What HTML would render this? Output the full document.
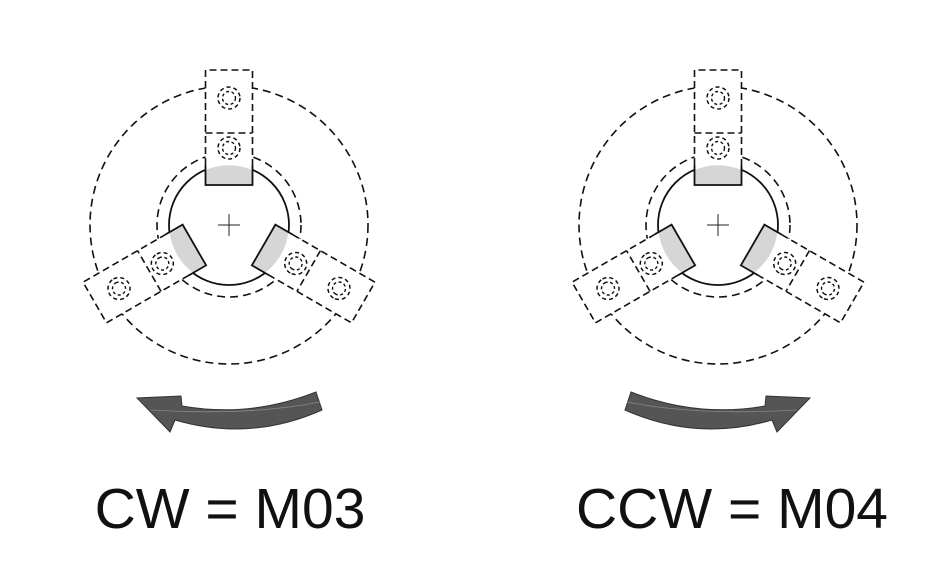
<!DOCTYPE html>
<html><head><style>body{margin:0;background:#fff}svg{display:block}</style></head><body>
<svg width="951" height="579" viewBox="0 0 951 579" xmlns="http://www.w3.org/2000/svg">
<defs>
<g id="jaw">
  <rect x="-23.5" y="-155" width="47" height="115" fill="#fff" stroke="none"/>
  <path d="M-23.5,-55 L-23.5,-40 L23.5,-40 L23.5,-55 A60,60 0 0 0 -23.5,-55 Z" fill="#d6d6d6" stroke="none"/>
  <path d="M-23.5,-60 L-23.5,-155 L23.5,-155 L23.5,-60" fill="none" stroke="#111" stroke-width="1.6" stroke-dasharray="7,4"/>
  <line x1="-23.5" y1="-92" x2="23.5" y2="-92" stroke="#111" stroke-width="1.6" stroke-dasharray="7,4"/>
  <path d="M-23.5,-60 L-23.5,-40 L23.5,-40 L23.5,-60" fill="none" stroke="#111" stroke-width="1.8"/>
  <circle cx="0" cy="-127" r="11" fill="none" stroke="#111" stroke-width="1.5" stroke-dasharray="4,3"/>
  <circle cx="0" cy="-127" r="6.5" fill="none" stroke="#111" stroke-width="1.4" stroke-dasharray="3,2.5"/>
  <circle cx="0" cy="-77" r="11" fill="none" stroke="#111" stroke-width="1.5" stroke-dasharray="4,3"/>
  <circle cx="0" cy="-77" r="6.5" fill="none" stroke="#111" stroke-width="1.4" stroke-dasharray="3,2.5"/>
</g>
<g id="chuck">
  <circle r="139" fill="none" stroke="#111" stroke-width="1.6" stroke-dasharray="8,5"/>
  <circle r="72" fill="none" stroke="#111" stroke-width="1.6" stroke-dasharray="8,5"/>
  <circle r="60" fill="#fff" stroke="#111" stroke-width="1.8"/>
  <use href="#jaw"/>
  <use href="#jaw" transform="rotate(120)"/>
  <use href="#jaw" transform="rotate(-120)"/>
  <line x1="-11" y1="0" x2="11" y2="0" stroke="#222" stroke-width="1"/>
  <line x1="0" y1="-11" x2="0" y2="11" stroke="#222" stroke-width="1"/>
</g>
<g id="arrow">
  <path d="M182,406 Q250,418 316,392 L322,410 Q250,442 175,420 L170,432 L137,398 L181,396 Z" fill="#555" stroke="#333" stroke-width="1"/>
  <path d="M150,410 Q250,416 320,402" fill="none" stroke="#888" stroke-width="0.8"/>
</g>
</defs>
<use href="#chuck" transform="translate(229,225)"/>
<use href="#chuck" transform="translate(718,225)"/>
<use href="#arrow"/>
<use href="#arrow" transform="translate(947,0) scale(-1,1)"/>
<text x="230" y="528" font-family="Liberation Sans, Arial, sans-serif" font-size="57" text-anchor="middle" fill="#111">CW = M03</text>
<text x="732" y="528" font-family="Liberation Sans, Arial, sans-serif" font-size="57" text-anchor="middle" fill="#111">CCW = M04</text>
</svg>
</body></html>
